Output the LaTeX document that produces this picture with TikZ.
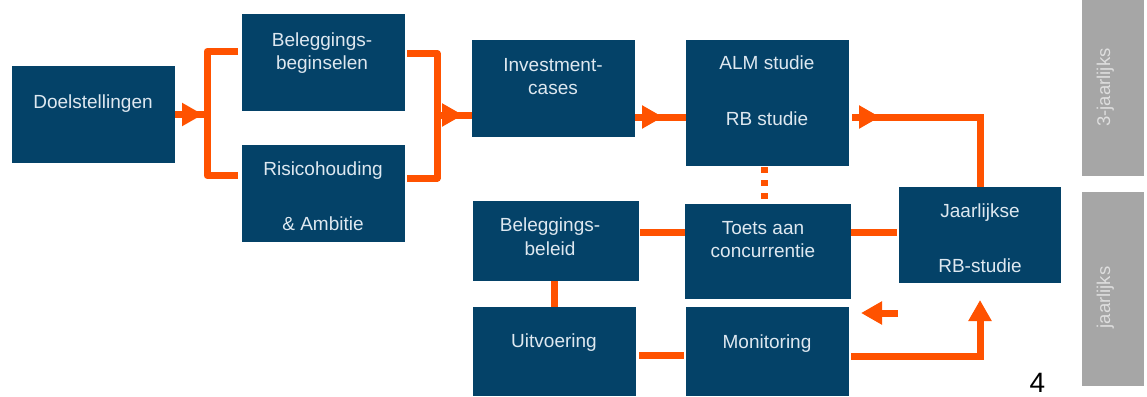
\documentclass[tikz,border=0pt]{standalone}
\usepackage{fontspec}
\setmainfont{Liberation Sans}
\usetikzlibrary{fit,arrows.meta,calc}
\definecolor{boxblue}{RGB}{4,66,104}
\definecolor{ora}{RGB}{255,82,0}
\definecolor{txtlight}{RGB}{222,232,240}
\definecolor{grayband}{RGB}{166,166,166}
\definecolor{graytxt}{RGB}{222,222,222}
\tikzset{
  box/.style={fill=boxblue,draw=none,inner sep=0pt,outer sep=0pt},
  gbox/.style={fill=grayband,draw=none,inner sep=0pt,outer sep=0pt},
  txt/.style={text=txtlight,inner sep=0pt,font=\fontsize{19}{23}\selectfont,anchor=base},
  gtxt/.style={text=graytxt,inner sep=0pt,font=\fontsize{18.5}{22}\selectfont,anchor=base,rotate=90},
  ol/.style={draw=ora,line width=7pt},
  olarr/.style={draw=ora,line width=7pt,-{Triangle[length=21pt,width=22pt]}},
  oldot/.style={draw=ora,line width=7pt,dash pattern=on 6pt off 7pt}
}
\begin{document}
\begin{tikzpicture}[x=1pt,y=-1pt]
\useasboundingbox (0,0) rectangle (1147,396);
% boxes
\node[box,fit={(12,66) (175,163)}] (doel) {};
\node[box,fit={(242,14) (405,111)}] (begin) {};
\node[box,fit={(242,145) (405,242)}] (risico) {};
\node[box,fit={(472,40) (635,137)}] (invest) {};
\node[box,fit={(686,40) (849,166)}] (alm) {};
\node[box,fit={(685,204) (851,299)}] (toets) {};
\node[box,fit={(899,187) (1061,283)}] (jaar) {};
\node[box,fit={(473,201) (639,281)}] (beleid) {};
\node[box,fit={(473,307) (636,396)}] (uitv) {};
\node[box,fit={(686,307) (849,396)}] (monit) {};
\node[gbox,fit={(1082,0) (1144,176)}] (gray1) {};
\node[gbox,fit={(1082,192) (1144,386)}] (gray2) {};
% texts
\node[txt] (tdoel) at (93,108) {Doelstellingen};
\node[txt] (tbeg1) at (322,46) {Beleggings-};
\node[txt] (tbeg2) at (322,69) {beginselen};
\node[txt] (trisk1) at (323,175) {Risicohouding};
\node[txt] (trisk2) at (323,230) {\& Ambitie};
\node[txt] (tinv1) at (553,71) {Investment-};
\node[txt] (tinv2) at (553,94) {cases};
\node[txt] (talm1) at (767,70) {ALM studie};
\node[txt] (talm2) at (767,125) {RB studie};
\node[txt] (ttoe1) at (763,234) {Toets aan};
\node[txt] (ttoe2) at (763,257) {concurrentie};
\node[txt] (tjaa1) at (980,217) {Jaarlijkse};
\node[txt] (tjaa2) at (980,272) {RB-studie};
\node[txt] (tbel1) at (550,231) {Beleggings-};
\node[txt] (tbel2) at (550,255) {beleid};
\node[txt] (tuit) at (554,347) {Uitvoering};
\node[txt] (tmon) at (767,348) {Monitoring};
\node[gtxt] (tg1) at (1110,87.5) {3-jaarlijks};
\node[gtxt] (tg2) at (1110,297.5) {jaarlijks};
\node[inner sep=0pt,anchor=base,font=\fontsize{28}{30}\selectfont] (pnum) at (1037.5,392) {4};
% helper coordinates
\coordinate (lbt) at (207,51.5);
\coordinate (lbb) at (207,175.5);
\coordinate (lbm) at (207,114.5);
\coordinate (lba) at (238,51.5);
\coordinate (lbc) at (238,175.5);
\coordinate (rba) at (407,53.5);
\coordinate (rbt) at (437,53.5);
\coordinate (rbb) at (437,178);
\coordinate (rbc) at (407,178);
\coordinate (rbm) at (437,115);
\coordinate (y117) at (0,117);
\coordinate (y232) at (0,232);
\coordinate (y355) at (0,355);
\coordinate (y356) at (0,356);
\coordinate (xdot) at (764.5,0);
\coordinate (fa) at (898,313);
\coordinate (fb) at (861,313);
% connectors
\draw[ol] (doel.east) -- (lbm);
\draw[olarr] (doel.east) -- ++(28,0);
\draw[ol,line join=round] (lba) -- (lbt) -- (lbb) -- (lbc);
\draw[ol,line join=round] (rba) -- (rbt) -- (rbb) -- (rbc);
\draw[ol] (rbm) -- (invest.west |- rbm);
\draw[olarr] (rbm) -- ++(26,0);
\draw[ol] (invest.east |- y117) -- (alm.west |- y117);
\draw[olarr] (invest.east |- y117) -- ++(28,0);
\draw[ol] ($(alm.east |- y117)+(3,0)$) -- (jaar.north |- y117) -- (jaar.north);
\draw[olarr] ($(alm.east |- y117)+(3,0)$) -- ++(28,0);
\draw[oldot] (alm.south -| xdot) ++(0,1) -- (toets.north -| xdot);
\draw[ol] ($(beleid.east |- y232)+(1,0)$) -- (toets.west |- y232);
\draw[ol] (toets.east |- y232) -- ($(jaar.west |- y232)+(-2,0)$);
\draw[ol] (uitv.north) -- (uitv.north |- beleid.south);
\draw[ol] ($(uitv.east |- y355)+(3,0)$) -- ($(monit.west |- y355)+(-2,0)$);
\draw[olarr] (fa) -- (fb);
\draw[ol] ($(monit.east |- y356)+(2,0)$) -- (jaar.south |- y356) -- ($(jaar.south)+(0,38)$);
\draw[olarr] ($(jaar.south)+(0,40)$) -- ($(jaar.south)+(0,17)$);
\end{tikzpicture}
\end{document}
